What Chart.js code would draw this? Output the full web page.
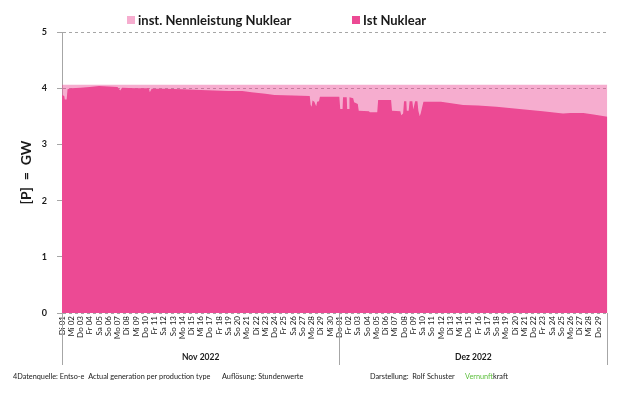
<!DOCTYPE html>
<html>
<head>
<meta charset="utf-8">
<script src="https://cdn.jsdelivr.net/npm/chart.js@4"></script>
<style>
  html, body { margin: 0; padding: 0; background: #fff; }
</style>
</head>
<body>
<canvas id="myChart" width="620" height="397"></canvas>
<script>
// tick labels, one per day (Nov 01 .. Dez 29)
const dayLabels = [
  'Di 01','Mi 02','Do 03','Fr 04','Sa 05','So 06','Mo 07','Di 08','Mi 09','Do 10',
  'Fr 11','Sa 12','So 13','Mo 14','Di 15','Mi 16','Do 17','Fr 18','Sa 19','So 20',
  'Mo 21','Di 22','Mi 23','Do 24','Fr 25','Sa 26','So 27','Mo 28','Di 29','Mi 30',
  'Do 01','Fr 02','Sa 03','So 04','Mo 05','Di 06','Mi 07','Do 08','Fr 09','Sa 10',
  'So 11','Mo 12','Di 13','Mi 14','Do 15','Fr 16','Sa 17','So 18','Mo 19','Di 20',
  'Mi 21','Do 22','Fr 23','Sa 24','So 25','Mo 26','Di 27','Mi 28','Do 29'
];
const monthLabels = ['Nov 2022', 'Dez 2022'];
const monthStart = [0, 30, 59];

// installed capacity (GW)
const instDays = [0, 59];
const instGW = [4.06, 4.06];

// actual generation (GW) at the break points
const istDays = [
  0, 0.25, 0.3, 0.5, 0.6, 1, 2, 3, 4, 5, 6, 6.3, 6.5, 8, 9.4, 9.5, 9.7, 11, 13, 15,
  16.5, 18, 19.5, 20.5, 22, 23, 25, 26.8, 26.9, 27.0, 27.1, 27.3, 27.5, 27.6, 27.8, 27.9,
  30.0, 30.1, 30.35, 30.4, 30.8, 30.85, 31.05, 31.1, 31.5, 31.6, 32.0, 32.1, 33.2, 33.3,
  34.1, 34.2, 35.6, 35.7, 36.6, 36.7, 36.9, 37.0, 37.25, 37.3, 37.5, 37.6, 37.9, 38.0,
  38.2, 38.45, 38.55, 38.7, 38.8, 39.1, 41, 43.4, 45, 47, 50.6, 52, 54.2, 55, 56.4, 57.5, 59
];
const istGW = [
  3.88, 3.86, 3.80, 3.80, 3.98, 4.00, 4.01, 4.02, 4.04, 4.03, 4.02, 3.96, 4.01, 4.00, 4.00, 3.93, 3.99, 3.99, 3.98, 3.97,
  3.96, 3.95, 3.95, 3.93, 3.90, 3.88, 3.87, 3.86, 3.70, 3.67, 3.78, 3.76, 3.68, 3.76, 3.77, 3.85,
  3.85, 3.63, 3.63, 3.84, 3.84, 3.63, 3.63, 3.84, 3.82, 3.75, 3.72, 3.60, 3.59, 3.57,
  3.57, 3.79, 3.79, 3.60, 3.59, 3.52, 3.55, 3.77, 3.77, 3.60, 3.60, 3.77, 3.77, 3.62,
  3.77, 3.77, 3.60, 3.50, 3.55, 3.76, 3.76, 3.70, 3.69, 3.67, 3.61, 3.59, 3.55, 3.56, 3.56, 3.53, 3.49
];

const darkPink = 'rgb(236, 74, 148)';
const lightPink = 'rgba(236, 74, 148, 0.45)';
const fontName = 'Lato';

function toPoints(xs, ys) {
  return xs.map((x, i) => ({ x: x, y: ys[i] }));
}

// own legend, month groups and footer notes
const extras = {
  id: 'extras',
  afterDraw(chart) {
    const ctx = chart.ctx;
    const xs = chart.scales.x;
    const area = chart.chartArea;
    ctx.save();

    // legend
    const items = [
      { text: 'inst. Nennleistung Nuklear', color: lightPink, x: 127 },
      { text: 'Ist Nuklear', color: darkPink, x: 352 }
    ];
    ctx.font = 'bold 13px ' + fontName;
    ctx.textBaseline = 'alphabetic';
    ctx.textAlign = 'left';
    items.forEach(it => {
      ctx.fillStyle = '#fff';
      ctx.fillRect(it.x, 16, 8, 8);
      ctx.fillStyle = it.color;
      ctx.fillRect(it.x, 16, 8, 8);
      ctx.fillStyle = '#1a1a1a';
      ctx.fillText(it.text, it.x + 11, 25);
    });

    // month separators and labels
    ctx.strokeStyle = '#a6a6a6';
    ctx.lineWidth = 1;
    monthStart.forEach(d => {
      const px = Math.round(xs.getPixelForValue(d)) + 0.5;
      ctx.beginPath();
      ctx.moveTo(px, area.bottom);
      ctx.lineTo(px, 365);
      ctx.stroke();
    });
    ctx.font = 'bold 8.5px ' + fontName;
    ctx.textAlign = 'center';
    ctx.fillStyle = '#1a1a1a';
    monthLabels.forEach((m, i) => {
      const mid = (xs.getPixelForValue(monthStart[i]) + xs.getPixelForValue(monthStart[i + 1])) / 2;
      ctx.fillText(m, mid, 360);
    });

    // footer
    ctx.font = '7.3px ' + fontName;
    ctx.textAlign = 'left';
    ctx.fillText('4Datenquelle: Entso-e  Actual generation per production type', 13, 379);
    ctx.fillText('Auflösung: Stundenwerte', 222, 379);
    ctx.fillText('Darstellung:  Rolf Schuster', 370, 379);
    ctx.fillStyle = '#5cbf3c';
    ctx.fillText('Vernunft', 465, 379);
    const w = ctx.measureText('Vernunft').width;
    ctx.fillStyle = '#1a1a1a';
    ctx.fillText('kraft', 465 + w, 379);
    ctx.restore();
  }
};

const ctx = document.getElementById('myChart');

const data = {
  datasets: [
    {
      label: 'Ist Nuklear',
      data: toPoints(istDays, istGW),
      backgroundColor: darkPink,
      fill: 'origin'
    },
    {
      label: 'inst. Nennleistung Nuklear',
      data: toPoints(instDays, instGW),
      backgroundColor: lightPink,
      fill: 'origin'
    }
  ]
};

const config = {
  type: 'line',
  data: data,
  options: {
    responsive: false,
    animation: false,
    layout: { padding: { top: 32, right: 12, bottom: 0, left: 0 } },
    elements: {
      point: { radius: 0 },
      line: { borderWidth: 0, tension: 0 }
    },
    plugins: {
      legend: { display: false },
      tooltip: { enabled: false }
    },
    scales: {
      x: {
        type: 'linear',
        min: 0,
        max: 59,
        afterFit: s => { s.height = 84; },
        grid: { display: false, drawTicks: false },
        border: { display: false },
        ticks: {
          stepSize: 1,
          autoSkip: false,
          minRotation: 90,
          maxRotation: 90,
          padding: 3,
          color: '#1a1a1a',
          font: { family: fontName, size: 8 },
          callback: v => dayLabels[v] || ''
        }
      },
      y: {
        min: 0,
        max: 5,
        afterFit: s => { s.width = 62; },
        border: { display: true, color: '#a6a6a6', dash: [3, 3] },
        grid: { color: '#a6a6a6', tickLength: 5, tickColor: '#a6a6a6', tickBorderDash: [] },
        ticks: {
          stepSize: 1,
          padding: 10,
          color: '#1a1a1a',
          font: { family: fontName, size: 9, weight: 'bold' }
        },
        title: {
          display: true,
          text: '[P]  =  GW',
          color: '#1a1a1a',
          padding: { top: 18, bottom: 0 },
          font: { family: fontName, size: 14, weight: 'bold' }
        }
      }
    }
  },
  plugins: [extras]
};

const myChart = new Chart(ctx, config);
</script>
</body>
</html>
